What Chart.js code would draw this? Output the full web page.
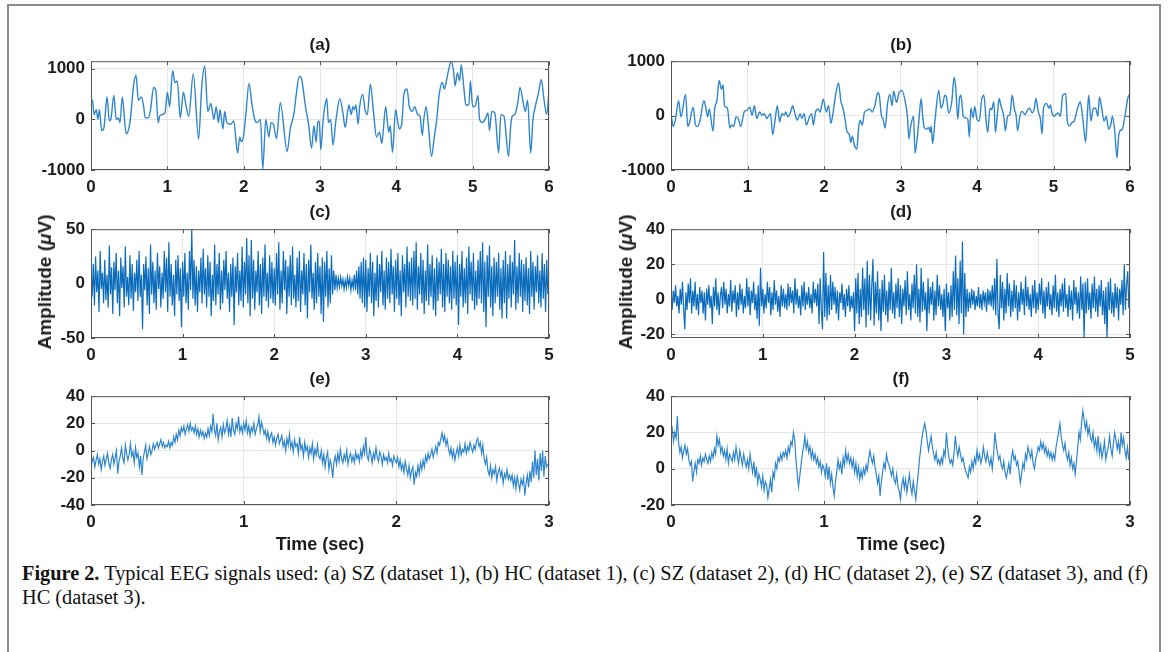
<!DOCTYPE html>
<html>
<head>
<meta charset="utf-8">
<script src="https://cdn.jsdelivr.net/npm/chart.js@4.4.0/dist/chart.umd.min.js"></script>
<style>
  body { margin: 0; width: 1168px; height: 652px; background: #fff; position: relative; overflow: hidden;
         font-family: "Liberation Sans", Arial, sans-serif; }
  .frame { position: absolute; left: 7px; top: 4px; width: 1150px; height: 700px; border: 2px solid #8c8c8c; }
  canvas { position: absolute; }
  .lbl { position: absolute; font-weight: bold; font-size: 17px; color: #1c1c1c; white-space: nowrap;
         transform: translate(-50%, -50%); }
  .xlab { font-size: 18px; }
  .ylab { font-size: 19px; transform: translate(-50%, -50%) rotate(-90deg); }
  .caption { position: absolute; left: 22px; top: 561px; font-family: "Liberation Serif", "Times New Roman", serif;
             font-size: 20px; line-height: 24px; color: #111; white-space: nowrap; transform-origin: 0 0; }
</style>
</head>
<body>
<div class="frame"></div>

<canvas id="pa"></canvas><canvas id="pb"></canvas>
<canvas id="pc"></canvas><canvas id="pd"></canvas>
<canvas id="pe"></canvas><canvas id="pf"></canvas>

<div class="lbl" style="left:320px;top:45px">(a)</div>
<div class="lbl" style="left:901px;top:45px">(b)</div>
<div class="lbl" style="left:320px;top:212px">(c)</div>
<div class="lbl" style="left:901px;top:212px">(d)</div>
<div class="lbl" style="left:320px;top:379px">(e)</div>
<div class="lbl" style="left:901px;top:379px">(f)</div>

<div class="lbl ylab" style="left:45px;top:282px">Amplitude (<i>μ</i>V)</div>
<div class="lbl ylab" style="left:626px;top:282px">Amplitude (<i>μ</i>V)</div>
<div class="lbl xlab" style="left:320px;top:544px">Time (sec)</div>
<div class="lbl xlab" style="left:901px;top:544px">Time (sec)</div>

<div class="caption" id="cap"><span id="cap1"><b>Figure 2.</b> Typical EEG signals used: (a) SZ (dataset 1), (b) HC (dataset 1), (c) SZ (dataset 2), (d) HC (dataset 2), (e) SZ (dataset 3), and (f)</span><br>HC (dataset 3).</div>

<script>
/* ---------- DATA ---------- */
// (a) SZ dataset 1 : turning points (sec, µV)
const aTime = [
  0.00, 0.02, 0.04, 0.07, 0.09, 0.11, 0.14, 0.17, 0.21, 0.24,
  0.26, 0.30, 0.33, 0.36, 0.38, 0.41, 0.46, 0.51, 0.56, 0.59,
  0.62, 0.66, 0.69, 0.71, 0.75, 0.78, 0.82, 0.85, 0.88, 0.90,
  0.93, 0.97, 1.00, 1.03, 1.07, 1.10, 1.13, 1.17, 1.21, 1.24,
  1.28, 1.34, 1.41, 1.45, 1.49, 1.53, 1.57, 1.61, 1.64, 1.67,
  1.69, 1.73, 1.75, 1.78, 1.83, 1.87, 1.92, 1.95, 1.97, 2.00,
  2.03, 2.07, 2.11, 2.15, 2.18, 2.22, 2.25, 2.29, 2.33, 2.36,
  2.39, 2.43, 2.48, 2.57, 2.61, 2.66, 2.69, 2.73, 2.76, 2.81,
  2.85, 2.89, 2.92, 2.95, 2.97, 2.99, 3.01, 3.04, 3.07, 3.09,
  3.11, 3.14, 3.17, 3.21, 3.26, 3.30, 3.33, 3.36, 3.38, 3.41,
  3.43, 3.45, 3.47, 3.50, 3.52, 3.56, 3.59, 3.62, 3.66, 3.70,
  3.74, 3.78, 3.81, 3.86, 3.90, 3.92, 3.95, 3.99, 4.02, 4.04,
  4.07, 4.10, 4.14, 4.17, 4.21, 4.24, 4.28, 4.31, 4.34, 4.36,
  4.39, 4.42, 4.46, 4.50, 4.53, 4.56, 4.60, 4.63, 4.66, 4.69,
  4.72, 4.75, 4.77, 4.80, 4.83, 4.85, 4.89, 4.91, 4.95, 4.97,
  5.00, 5.03, 5.07, 5.09, 5.13, 5.17, 5.20, 5.22, 5.25, 5.29,
  5.34, 5.37, 5.41, 5.47, 5.50, 5.52, 5.55, 5.59, 5.62, 5.66,
  5.69, 5.72, 5.76, 5.79, 5.82, 5.86, 5.90, 5.93, 5.97, 6.00
];
const aAmp = [
  316, 380, 95, 190, 0, 190, -220, -160, 443, -30,
  0, 475, 0, 30, -63, 443, -285, -63, 696, 873,
  380, 443, 253, 30, 30, 190, 633, 570, -63, 63,
  95, 127, 538, 253, 962, 728, 760, 30, 538, 316,
  63, 898, -392, 633, 1057, 158, 316, 0, 253, -63,
  190, -190, 158, -63, -95, -30, -665, -348, -443, -316,
  127, 709, 285, -30, -63, 0, -981, 0, -348, -63,
  -95, -380, 330, -633, -190, 127, 506, 855, 791, 253,
  -95, -570, -127, -450, -63, -30, -600, -30, 316, 411,
  -63, 0, -506, 0, 411, 127, -158, 127, 285, 95,
  253, 190, 285, -95, 253, 494, 190, 95, 696, 158,
  -348, -253, -475, 253, -253, -127, -652, 190, -63, -190,
  -95, 506, 601, 253, 158, 253, 95, 63, -316, 0,
  253, -127, -728, -316, 0, 475, 728, 601, 791, 1013,
  1150, 950, 665, 918, 760, 1076, 538, 285, 285, 760,
  253, 253, 475, 0, -63, 30, 127, -222, 158, 127,
  -665, 95, 63, -728, -95, 63, 95, 316, 633, 348,
  158, 380, -665, 0, 253, 506, 791, 443, 95, 560
];

// (b) HC dataset 1 : turning points (sec, µV)
const bTime = [
  0.00, 0.03, 0.06, 0.10, 0.13, 0.19, 0.22, 0.24, 0.29, 0.32,
  0.35, 0.38, 0.43, 0.45, 0.48, 0.50, 0.55, 0.57, 0.60, 0.63,
  0.66, 0.68, 0.70, 0.72, 0.74, 0.77, 0.79, 0.82, 0.85, 0.88,
  0.91, 0.96, 0.99, 1.03, 1.06, 1.09, 1.12, 1.16, 1.19, 1.22,
  1.25, 1.30, 1.33, 1.36, 1.39, 1.42, 1.45, 1.48, 1.50, 1.53,
  1.57, 1.59, 1.62, 1.65, 1.69, 1.71, 1.74, 1.77, 1.81, 1.84,
  1.86, 1.89, 1.92, 1.95, 1.97, 1.99, 2.03, 2.06, 2.09, 2.12,
  2.15, 2.19, 2.22, 2.25, 2.28, 2.30, 2.33, 2.35, 2.37, 2.40,
  2.43, 2.45, 2.47, 2.50, 2.53, 2.56, 2.60, 2.63, 2.67, 2.70,
  2.72, 2.75, 2.77, 2.80, 2.83, 2.86, 2.89, 2.91, 2.95, 2.98,
  3.02, 3.07, 3.09, 3.11, 3.13, 3.17, 3.19, 3.22, 3.24, 3.27,
  3.29, 3.31, 3.34, 3.37, 3.39, 3.40, 3.42, 3.45, 3.50, 3.53,
  3.55, 3.58, 3.60, 3.63, 3.67, 3.70, 3.72, 3.75, 3.77, 3.79,
  3.82, 3.85, 3.88, 3.90, 3.92, 3.95, 3.97, 4.00, 4.03, 4.06,
  4.09, 4.12, 4.14, 4.17, 4.19, 4.22, 4.24, 4.27, 4.29, 4.31,
  4.35, 4.37, 4.40, 4.43, 4.46, 4.49, 4.51, 4.53, 4.56, 4.59,
  4.63, 4.66, 4.69, 4.72, 4.75, 4.77, 4.80, 4.83, 4.85, 4.87,
  4.91, 4.94, 4.96, 4.98, 5.01, 5.03, 5.06, 5.09, 5.12, 5.16,
  5.18, 5.21, 5.24, 5.27, 5.31, 5.35, 5.38, 5.42, 5.44, 5.46,
  5.49, 5.52, 5.55, 5.58, 5.60, 5.63, 5.66, 5.69, 5.72, 5.75,
  5.77, 5.80, 5.83, 5.85, 5.87, 5.90, 5.94, 5.97, 6.00
];
const bAmp = [
  36, -201, -53, 272, -24, 391, -201, -142, 154, -172,
  -201, -83, 272, 184, -24, 124, -290, 124, 272, 645,
  480, 568, 184, 154, 124, -231, -172, -201, -24, -53,
  -201, 77, 95, 154, 6, 184, -53, 65, 6, 36,
  -53, 36, -349, -83, 184, -112, 36, 6, 65, -24,
  95, 184, 36, -83, 36, -53, 36, -172, -24, 36,
  -172, 65, 124, 65, 184, 302, 65, 184, -142, 65,
  361, 598, 272, 124, -112, -290, -349, -497, -379, -556,
  -616, -260, -83, -172, 65, 95, 124, 65, 213, 420,
  391, 6, -53, -231, 213, 391, 184, 450, 243, 420,
  462, 195, -12, -426, -219, -12, -692, -397, -101, 314,
  -12, -219, -249, -219, -308, -189, -515, -101, 462, 136,
  195, 373, 343, 47, 255, 699, 551, -71, 314, 373,
  -12, -41, -71, -397, 136, -41, 166, -71, -101, 284,
  373, -101, -308, 136, 107, 255, -308, 77, 314, 195,
  -12, -278, -12, 18, 373, 107, 18, -278, -12, 77,
  18, 107, 136, 47, 136, 314, 77, -71, -337, 136,
  225, 136, 195, 47, -12, 18, 47, -12, 373, 403,
  -101, -189, -130, -101, 107, 255, -12, -485, -41, 373,
  -101, 136, 136, -12, 343, 136, -101, -12, -249, -160,
  -12, -278, -781, -397, -278, -249, 47, 314, 403
];

// (c) SZ dataset 2 : 80 samples per second (µV)
const cRate = 80;
const cAmp = [
  5, -12, 18, -20, 25, -8, 12, -26, 30, -5, 10, -18, 22, -15, 8, -22, 35, -10, 15, -28,
  20, -6, 28, -18, 12, -30, 24, -4, 16, -22, 34, -12, 6, -20, 26, -14, 18, -25, 10, -8,
  22, -16, 30, -12, 8, -42, 18, -6, 25, -20, 14, -28, 36, -10, 20, -18, 12, -24, 28, -5,
  16, -22, 10, -14, 30, -8, 24, -26, 38, -12, 18, -20, 8, -30, 22, -10, 26, -16, 14, -40,
  20, -12, 28, -18, 10, -24, 30, -6, 50, -14, 22, -20, 16, -26, 12, -8, 24, -18, 32, -10,
  14, -22, 26, -12, 20, -30, 8, -16, 36, -20, 18, -10, 28, -24, 12, -18, 22, -6, 30, -14,
  10, -26, 18, -12, 24, -38, 16, -8, 28, -20, 12, -16, 34, -22, 20, -10, 42, -18, 26, -30,
  40, -14, 22, -24, 12, -8, 30, -20, 18, -28, 24, -12, 36, -16, 10, -22, 26, -14, 20, -18,
  14, -20, 28, -10, 38, -24, 12, -18, 30, -6, 22, -28, 16, -12, 26, -20, 34, -14, 8, -22,
  24, -16, 30, -26, 12, -10, 28, -20, 18, -32, 22, -8, 36, -14, 10, -24, 20, -18, 28, -12,
  16, -28, 24, -35, 20, -12, 30, -22, 14, -18, 26, -10, 12, -6, 8, -4, 5, -3, 6, -2,
  4, -5, 3, -4, 6, -2, 5, -6, 3, -4, 8, -6, 12, -10, 16, -14, 20, -18, 24, -22,
  22, -26, 14, -12, 28, -18, 20, -30, 10, -16, 26, -22, 18, -8, 30, -20, 12, -24, 24, -14,
  20, -18, 32, -10, 16, -26, 22, -14, 28, -20, 12, -30, 26, -8, 18, -22, 34, -12, 20, -16,
  24, -20, 30, -14, 38, -24, 16, -10, 28, -18, 22, -28, 12, -16, 36, -20, 18, -12, 26, -24,
  14, -30, 24, -16, 20, -10, 32, -22, 18, -26, 28, -12, 22, -18, 16, -24, 30, -14, 20, -20,
  26, -38, 18, -12, 30, -22, 14, -18, 24, -28, 34, -10, 20, -16, 28, -24, 12, -20, 22, -14,
  30, -18, 38, -26, 20, -40, 26, -12, 35, -22, 16, -30, 24, -18, 20, -12, 28, -24, 14, -32,
  22, -18, 30, -32, 18, -14, 26, -22, 20, -10, 40, -24, 16, -18, 28, -12, 22, -26, 18, -16,
  24, -20, 14, -28, 30, -12, 20, -24, 16, -8, 26, -18, 12, -22, 28, -14, 18, -26, 22, -10
];

// (d) HC dataset 2 : 80 samples per second (µV)
const dRate = 80;
const dAmp = [
  3, -6, 5, -2, 8, -4, 2, -8, 6, -3, 10, -5, -17, 4, -6, 9, -2, 12, -8, 5,
  -4, 10, -6, 3, -9, 7, -2, 5, -8, 4, -12, 6, -3, 8, -5, 2, -14, 7, -4, 12,
  -6, 4, -9, 2, 7, -5, 10, -3, 6, -8, 3, -4, 11, -7, 5, -2, 8, -10, 4, -6,
  9, -3, 6, -8, 2, -5, 12, -4, 7, -9, 5, -2, 10, -6, 3, -11, 8, -15, 18, -4,
  6, -8, 3, -5, 10, -2, 7, -9, 4, -6, 11, -3, 5, -7, 2, -10, 8, -4, 6, -5,
  3, -6, 9, -4, 7, -2, 5, -8, 12, -3, 6, -5, 2, -9, 8, -4, 10, -6, 4, -3,
  7, -5, 3, -8, 10, -2, 6, -4, 9, -14, 12, -6, -17, 27, -10, 15, -12, 8, -9, 14,
  -6, 10, -3, 7, -8, 5, -12, 4, -2, 9, -6, 3, -10, 6, -4, 8, -7, 2, -5, 4,
  -18, 12, -8, 15, -14, 6, -10, 18, -6, 12, -16, 22, -9, 14, -12, 8, 23, -15, 10, -8,
  16, -12, 6, -18, 11, -7, 14, -9, 5, -13, 10, -6, 18, -8, 4, -11, 9, -5, 12, -10,
  8, -14, 6, -4, 11, -9, 16, -6, 3, -12, 9, -5, 14, -8, 20, -10, 6, -13, 18, -7,
  10, -6, 4, -18, 12, -8, 7, -3, 10, -12, 5, -9, 14, -4, 8, -6, 3, -10, 6, -18,
  9, -5, 4, -12, 8, -10, 16, -6, 25, -9, 12, -14, 22, -8, 33, -20, 15, -10, 6, -7,
  4, -5, 6, -3, 5, -6, 2, -4, 7, -5, 3, -6, 5, -2, 4, -7, 6, -3, 5, -4,
  8, -6, 12, -9, 23, -8, -17, 14, -5, 10, -12, 6, -8, 15, -4, 9, -10, 5, -7, 11,
  -5, 8, -12, 4, -7, 10, -3, 6, -9, 13, -4, 7, -6, 3, -10, 8, -5, 11, -8, 4,
  -6, 9, -3, 12, -8, 5, -11, 7, -4, 10, -6, 3, -9, 8, -5, 14, -7, 4, -10, 6,
  -4, 9, -7, 12, -5, 3, -10, 8, -6, 5, -12, 11, -3, 7, -8, 4, -11, 13, -6, 9,
  -22, 10, -8, 12, -6, 4, -11, 9, -5, 13, -7, 6, -10, 8, -4, 11, -9, 5, -14, 7,
  -22, 10, -6, 12, -8, 4, -10, 9, -5, 7, -12, 6, -3, 11, -9, 20, -6, 8, 16, -5
];

// (e) SZ dataset 3 : 120 samples per second (µV)
const eRate = 120;
const eAmp = [
  -2, -8, -5, -12, -7, -3, -10, -6, -14, -8, -4, -11, -6, -2, -9, -13, -7, -3, -10, -5, 0, -17, -8, -4, 2, -6, -9, 4, -2, -7,
  -3, 5, -4, -1, -9, 2, -5, -2, -12, -4, -18, -6, -1, 4, -6, -2, 3, -3, 0, 5, 1, 4, 6, 2, 5, 8, 3, 6, 2, 4,
  3, 7, 2, 6, 4, 10, 6, 12, 8, 15, 11, 17, 14, 18, 12, 16, 19, 14, 20, 15, 17, 13, 18, 12, 16, 10, 15, 11, 14, 9,
  13, 10, 16, 11, 18, 14, 27, 15, 11, 20, 8, 14, 17, 10, 19, 13, 16, 22, 12, 18, 10, 24, 15, 12, 20, 16, 25, 14, 18, 13,
  20, 15, 22, 13, 18, 11, 17, 14, 20, 12, 16, 19, 25, 14, 21, 17, 12, 15, 9, 14, 7, 11, 13, 6, 10, 4, 9, 12, 5, 8,
  11, 3, 7, 0, 9, 4, 12, 2, 6, -1, 8, 3, 5, -2, 10, 1, 4, -4, 6, 0, 3, -5, 2, -2, 5, -6, 1, -3, 4, -4,
  -6, 0, -9, -3, -12, -5, -1, -14, -7, -11, -20, -8, -4, -10, -2, -8, 1, -6, -9, -3, -7, 0, -10, -5, -2, -8, -4, -9, -1, -6,
  -3, -8, 0, -5, 3, -2, 10, -4, -7, 1, -3, -9, -2, -6, 2, -5, -8, -1, -4, -10, -3, -7, -5, -9, -2, -8, -6, -11, -4, -7,
  -9, -5, -12, -7, -14, -10, -16, -8, -13, -18, -11, -20, -15, -12, -25, -16, -19, -11, -17, -9, -14, -7, -12, -4, -8, -2, -6, -3, 1, -5,
  -1, 3, -2, 6, 4, 9, 13, 7, 11, 4, 8, 1, -3, 2, -5, 0, -7, -2, 2, -4, 4, -3, 1, -1, 5, -2, 3, 0, 6, 2,
  -1, 4, 1, 7, 9, 3, 6, -2, 4, -6, -10, -5, -15, -18, -11, -20, -14, -17, -12, -22, -16, -13, -19, -15, -24, -17, -20, -14, -21, -18,
  -22, -18, -26, -20, -28, -19, -24, -29, -21, -25, -20, -33, -24, -18, -27, -15, -23, -8, -20, 0, -18, -6, -22, -2, -15, 0, -19, -4, -12, -10
];

// (f) HC dataset 3 : 120 samples per second (µV)
const fRate = 120;
const fAmp = [
  18, 22, 15, 20, 17, 29, 14, 9, 12, 6, 10, 13, 8, 11, 5, 2, 4, -7, -1, 3, -2, 5, 3, 7, 2, 6, 4, 8, 5, 3,
  7, 4, 9, 6, 11, 8, 18, 13, 16, 9, 12, 7, 10, 5, 11, 3, 8, 6, 4, 9, 5, 12, 7, 3, 10, 6, 2, 8, 4, 1,
  5, 0, 8, 3, -2, 4, -5, 1, -8, -3, -6, -10, -4, -12, -7, -9, -16, -11, -6, -13, -2, -5, 3, 0, 6, 4, 8, 5, 9, 7,
  10, 6, 12, 9, 15, 13, 20, 16, 5, -3, -10, -4, 2, 8, 12, 18, 11, 15, 9, 12, 6, 10, 5, 8, 3, 6, 1, 4, -2, 2,
  0, -4, 3, -6, 1, -8, -3, -10, -15, -7, -2, 5, 0, 3, -3, 6, 2, 10, 4, 8, 3, 6, 1, 5, -2, 3, -4, 1, -6, -1,
  -5, 0, -3, 2, -1, 5, 10, 6, 3, 7, 1, -3, -8, -4, -15, -7, -2, 3, 0, 8, 4, 2, -1, -4, 0, -6, -8, -3, -10, -12,
  -17, -9, -5, -11, -6, -13, -8, -3, -10, -14, -7, -12, -17, -9, -2, 6, 12, 18, 22, 25, 21, 15, 10, 14, 18, 12, 8, 5, 9, 3,
  5, 2, 6, 3, 10, 7, 20, 12, 6, 3, 5, 2, 9, 18, 11, 7, 12, 8, 4, 6, 2, -1, -3, -5, 1, -2, 4, 0, 6, 3,
  10, 5, 8, 3, 6, 12, 7, 4, 9, 5, 2, 6, 0, 8, 20, 14, 9, 5, 7, 2, 0, 4, -2, -5, -1, 3, -3, 6, 10, 5,
  7, 2, 4, -2, -8, -3, 3, 0, 8, 5, 12, 9, 6, 10, 3, 0, 5, 8, 12, 10, 15, 11, 14, 9, 12, 7, 10, 6, 9, 5,
  8, 5, 12, 16, 20, 25, 18, 13, 10, 14, 8, 5, 9, 2, 6, 0, 3, -3, 4, 12, 20, 16, 25, 32, 27, 22, 26, 19, 23, 17,
  15, 20, 12, 16, 10, 18, 8, 13, 6, 10, 15, 5, 9, 12, 18, 11, 7, 14, 20, 16, 11, 15, 8, 20, 13, 17, 10, 6, 12, 5
];

// tick labels
const xTicks6 = [0, 1, 2, 3, 4, 5, 6];
const xTicks5 = [0, 1, 2, 3, 4, 5];
const xTicks3 = [0, 1, 2, 3];
const yTicksAB = [-1000, 0, 1000];
const yTicksC = [-50, 0, 50];
const yTicksD = [-20, 0, 20, 40];
const yTicksE = [-40, -20, 0, 20, 40];
const yTicksF = [-20, 0, 20, 40];

/* ---------- HELPERS ---------- */
const pairs = (times, amps) => amps.map((v, i) => ({ x: times[i], y: v }));
const sampled = (rate, amps) => amps.map((v, i) => ({ x: i / rate, y: v }));

const tickFont = { family: '"Liberation Sans", Arial, sans-serif', size: 17, weight: 'bold' };
const tickColor = '#1c1c1c';
const gridColor = '#e6e6e6';

// plot frame + inward tick marks, MATLAB style
const boxPlugin = {
  id: 'box',
  afterDraw(chart) {
    const { ctx, chartArea: a, scales } = chart;
    ctx.save();
    ctx.strokeStyle = '#555';
    ctx.lineWidth = 1;
    ctx.strokeRect(a.left + 0.5, a.top + 0.5, a.width - 1, a.height - 1);
    ctx.beginPath();
    scales.x.ticks.forEach((t) => {
      const px = Math.round(scales.x.getPixelForValue(t.value)) + 0.5;
      ctx.moveTo(px, a.bottom); ctx.lineTo(px, a.bottom - 4);
      ctx.moveTo(px, a.top); ctx.lineTo(px, a.top + 4);
    });
    scales.y.ticks.forEach((t) => {
      const py = Math.round(scales.y.getPixelForValue(t.value)) + 0.5;
      ctx.moveTo(a.left, py); ctx.lineTo(a.left + 4, py);
      ctx.moveTo(a.right, py); ctx.lineTo(a.right - 4, py);
    });
    ctx.stroke();
    ctx.restore();
  },
};

function panel(id, box, points, opt) {
  const padTop = 12, padRight = 12, yW = 70, xH = 32;
  const cv = document.getElementById(id);
  cv.width = box.r - box.l + yW + padRight;
  cv.height = box.b - box.t + padTop + xH;
  cv.style.left = box.l - yW + 'px';
  cv.style.top = box.t - padTop + 'px';

  new Chart(cv, {
    type: 'line',
    data: {
      datasets: [{
        data: points,
        borderColor: opt.color,
        borderWidth: opt.width || 1,
        pointRadius: 0,
        fill: false,
        tension: 0,
        cubicInterpolationMode: opt.smooth ? 'monotone' : 'default',
      }],
    },
    options: {
      responsive: false,
      animation: false,
      devicePixelRatio: 1,
      layout: { padding: { top: padTop, right: padRight, left: 0, bottom: 0 } },
      plugins: { legend: { display: false }, tooltip: { enabled: false } },
      scales: {
        x: {
          type: 'linear', min: 0, max: opt.xMax,
          afterBuildTicks: (s) => { s.ticks = opt.xTicks.map((v) => ({ value: v })); },
          afterFit: (s) => { s.height = xH; },
          ticks: { font: tickFont, color: tickColor, padding: 7, maxRotation: 0, autoSkip: false,
                   callback: (v) => String(v) },
          grid: { color: gridColor, drawTicks: false },
          border: { display: false },
        },
        y: {
          type: 'linear', min: opt.yMin, max: opt.yMax,
          afterBuildTicks: (s) => { s.ticks = opt.yTicks.map((v) => ({ value: v })); },
          afterFit: (s) => { s.width = yW; },
          ticks: { font: tickFont, color: tickColor, padding: 6, autoSkip: false,
                   callback: (v) => String(v) },
          grid: { color: gridColor, drawTicks: false },
          border: { display: false },
        },
      },
    },
    plugins: [boxPlugin],
  });
}

/* ---------- PANELS ---------- */
const lightBlue = '#2f86cc';
const darkBlue = '#0b6cbb';

panel('pa', { l: 91, r: 549, t: 57, b: 170 }, pairs(aTime, aAmp),
  { xMax: 6, xTicks: xTicks6, yMin: -1000, yMax: 1150, yTicks: yTicksAB, color: lightBlue, width: 1.4, smooth: true });
panel('pb', { l: 671, r: 1130, t: 57, b: 170 }, pairs(bTime, bAmp),
  { xMax: 6, xTicks: xTicks6, yMin: -1000, yMax: 1000, yTicks: yTicksAB, color: lightBlue, width: 1.4, smooth: true });
panel('pc', { l: 91, r: 549, t: 225, b: 338 }, sampled(cRate, cAmp),
  { xMax: 5, xTicks: xTicks5, yMin: -50, yMax: 50, yTicks: yTicksC, color: darkBlue, width: 1.2 });
panel('pd', { l: 671, r: 1130, t: 225, b: 338 }, sampled(dRate, dAmp),
  { xMax: 5, xTicks: xTicks5, yMin: -22, yMax: 40, yTicks: yTicksD, color: darkBlue, width: 1.2 });
panel('pe', { l: 91, r: 549, t: 392, b: 505 }, sampled(eRate, eAmp),
  { xMax: 3, xTicks: xTicks3, yMin: -40, yMax: 40, yTicks: yTicksE, color: lightBlue, width: 1.2 });
panel('pf', { l: 671, r: 1130, t: 392, b: 505 }, sampled(fRate, fAmp),
  { xMax: 3, xTicks: xTicks3, yMin: -20, yMax: 40, yTicks: yTicksF, color: lightBlue, width: 1.2 });

/* ---------- CAPTION WIDTH ---------- */
const cap = document.getElementById('cap');
const w1 = document.getElementById('cap1').getBoundingClientRect().width;
cap.style.transform = 'scaleX(' + (1126 / w1).toFixed(4) + ')';
</script>
</body>
</html>
